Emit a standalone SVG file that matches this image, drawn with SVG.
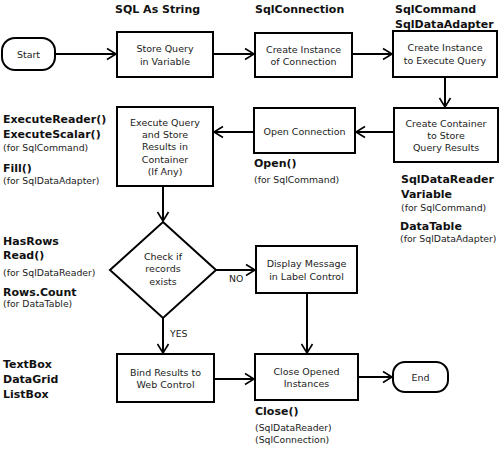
<svg xmlns="http://www.w3.org/2000/svg" width="500" height="449" viewBox="0 0 500 449">
<style>
.box{fill:#fff;stroke:#000;stroke-width:2}
.t{font-family:"DejaVu Sans",sans-serif;font-size:9.5px;fill:#222;text-anchor:middle}
.b{font-family:"DejaVu Sans",sans-serif;font-size:11px;font-weight:bold;fill:#111}
.s{font-family:"DejaVu Sans",sans-serif;font-size:9.3px;fill:#222}
.c{fill:none;stroke:#000;stroke-width:2}
</style>
<defs>
<marker id="a" markerUnits="userSpaceOnUse" markerWidth="12" markerHeight="14" refX="10" refY="6" orient="auto" viewBox="0 0 12 12">
<path d="M1,0.5 L10,6 L1,11.5" fill="none" stroke="#000" stroke-width="1.6"/>
</marker>
</defs>
<rect width="500" height="449" fill="#fff"/>
<g id="connectors">
<path class="c" d="M55,54 H116" marker-end="url(#a)"/>
<path class="c" d="M213,54 H254" marker-end="url(#a)"/>
<path class="c" d="M352,54 H392" marker-end="url(#a)"/>
<path class="c" d="M445,77 V107" marker-end="url(#a)"/>
<path class="c" d="M394,132 H356" marker-end="url(#a)"/>
<path class="c" d="M254,132 H214" marker-end="url(#a)"/>
<path class="c" d="M163,186 V221" marker-end="url(#a)"/>
<path class="c" d="M216,270 H255" marker-end="url(#a)"/>
<path class="c" d="M163,318 V353" marker-end="url(#a)"/>
<path class="c" d="M307,293 V353" marker-end="url(#a)"/>
<path class="c" d="M214,379 H254" marker-end="url(#a)"/>
<path class="c" d="M358,377 H392" marker-end="url(#a)"/>
<text class="s" x="229" y="282">NO</text>
<text class="s" x="170" y="337">YES</text>
</g>
<g id="start">
<rect class="box" x="2" y="38" width="53" height="32" rx="13"/>
<text class="t" x="28.5" y="57.5">Start</text>
</g>
<g id="store">
<rect class="box" x="117" y="32" width="96" height="45"/>
<text class="t" x="165" y="52">Store Query</text>
<text class="t" x="165" y="65">in Variable</text>
</g>
<g id="createConn">
<rect class="box" x="255" y="33" width="97" height="44"/>
<text class="t" x="303.5" y="53">Create Instance</text>
<text class="t" x="303.5" y="65">of Connection</text>
</g>
<g id="createCmd">
<rect class="box" x="393" y="31" width="104" height="46"/>
<text class="t" x="445" y="51">Create Instance</text>
<text class="t" x="445" y="64">to Execute Query</text>
</g>
<g id="container">
<rect class="box" x="394" y="108" width="104" height="54"/>
<text class="t" x="446" y="127">Create Container</text>
<text class="t" x="446" y="139">to Store</text>
<text class="t" x="446" y="151">Query Results</text>
</g>
<g id="open">
<rect class="box" x="254" y="108" width="101" height="45"/>
<text class="t" x="304.5" y="135">Open Connection</text>
</g>
<g id="execute">
<rect class="box" x="117" y="107" width="96" height="79"/>
<text class="t" x="165" y="126">Execute Query</text>
<text class="t" x="165" y="138">and Store</text>
<text class="t" x="165" y="150">Results in</text>
<text class="t" x="165" y="163">Container</text>
<text class="t" x="165" y="175">(If Any)</text>
</g>
<g id="check">
<polygon class="box" points="163,222 216,270 163,318 110,270"/>
<text class="t" x="163" y="260">Check if</text>
<text class="t" x="163" y="272">records</text>
<text class="t" x="163" y="285">exists</text>
</g>
<g id="display">
<rect class="box" x="256" y="246" width="101" height="47"/>
<text class="t" x="306.5" y="267">Display Message</text>
<text class="t" x="306.5" y="280">in Label Control</text>
</g>
<g id="bind">
<rect class="box" x="117" y="354" width="97" height="48"/>
<text class="t" x="165.5" y="376">Bind Results to</text>
<text class="t" x="165.5" y="388">Web Control</text>
</g>
<g id="close">
<rect class="box" x="255" y="354" width="103" height="46"/>
<text class="t" x="306.5" y="375">Close Opened</text>
<text class="t" x="306.5" y="387">Instances</text>
</g>
<g id="end">
<rect class="box" x="393" y="362" width="55" height="30" rx="12"/>
<text class="t" x="420.5" y="380.5">End</text>
</g>
<g id="labels">
<text class="b" x="115" y="13">SQL As String</text>
<text class="b" x="255" y="13">SqlConnection</text>
<text class="b" x="395" y="13">SqlCommand</text>
<text class="b" x="395" y="28">SqlDataAdapter</text>
<text class="b" x="3" y="123">ExecuteReader()</text>
<text class="b" x="3" y="138">ExecuteScalar()</text>
<text class="s" x="3" y="151">(for SqlCommand)</text>
<text class="b" x="3" y="172">Fill()</text>
<text class="s" x="3" y="184">(for SqlDataAdapter)</text>
<text class="b" x="254" y="167">Open()</text>
<text class="s" x="254" y="183">(for SqlCommand)</text>
<text class="b" x="401" y="183">SqlDataReader</text>
<text class="b" x="401" y="198">Variable</text>
<text class="s" x="401" y="211">(for SqlCommand)</text>
<text class="b" x="400" y="230">DataTable</text>
<text class="s" x="400" y="242">(for SqlDataAdapter)</text>
<text class="b" x="3" y="245">HasRows</text>
<text class="b" x="3" y="259">Read()</text>
<text class="s" x="3" y="276">(for SqlDataReader)</text>
<text class="b" x="3" y="296">Rows.Count</text>
<text class="s" x="3" y="307">(for DataTable)</text>
<text class="b" x="3" y="368">TextBox</text>
<text class="b" x="3" y="383">DataGrid</text>
<text class="b" x="3" y="398">ListBox</text>
<text class="b" x="255" y="415">Close()</text>
<text class="s" x="255" y="431">(SqlDataReader)</text>
<text class="s" x="255" y="443">(SqlConnection)</text>
</g>
</svg>
